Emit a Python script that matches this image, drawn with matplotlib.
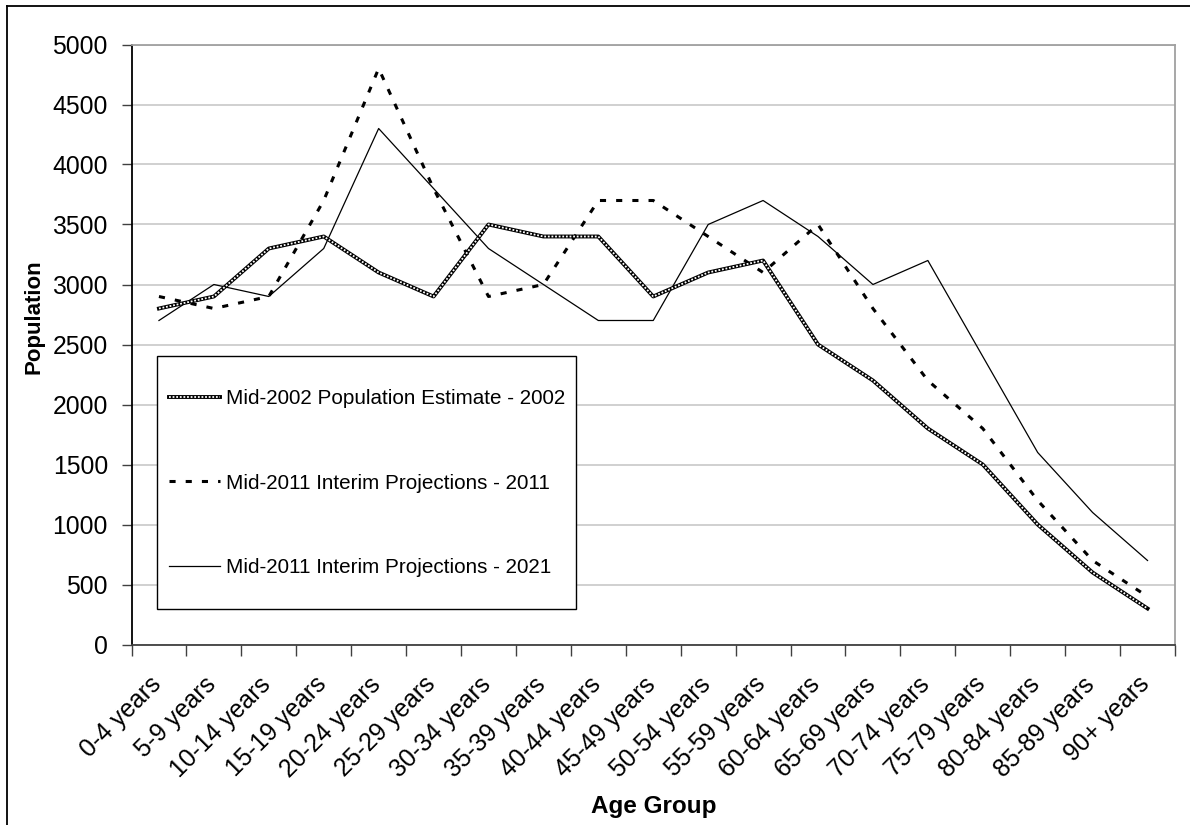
import numpy as np
import matplotlib
matplotlib.use("Agg")
import matplotlib.pyplot as plt
import matplotlib.transforms as mtransforms
from matplotlib.patches import Rectangle
from matplotlib.lines import Line2D
from matplotlib.legend_handler import HandlerTuple

plt.rcParams["font.family"] = ["Liberation Sans", "DejaVu Sans"]

age_groups = ["0-4 years", "5-9 years", "10-14 years", "15-19 years",
              "20-24 years", "25-29 years", "30-34 years", "35-39 years",
              "40-44 years", "45-49 years", "50-54 years", "55-59 years",
              "60-64 years", "65-69 years", "70-74 years", "75-79 years",
              "80-84 years", "85-89 years", "90+ years"]

est_2002 = [2800, 2900, 3300, 3400, 3100, 2900, 3500, 3400, 3400, 2900,
            3100, 3200, 2500, 2200, 1800, 1500, 1000, 600, 300]
proj_2011 = [2900, 2800, 2900, 3700, 4800, 3800, 2900, 3000, 3700, 3700,
             3400, 3100, 3500, 2800, 2200, 1800, 1200, 700, 400]
proj_2021 = [2700, 3000, 2900, 3300, 4300, 3800, 3300, 3000, 2700, 2700,
             3500, 3700, 3400, 3000, 3200, 2400, 1600, 1100, 700]

labels = ["Mid-2002 Population Estimate - 2002",
          "Mid-2011 Interim Projections - 2011",
          "Mid-2011 Interim Projections - 2021"]

fig = plt.figure(figsize=(11.9, 8.25), dpi=100)
ax = fig.add_axes([131.5 / 1190, 1 - 644.5 / 825,
                   (1175 - 131.5) / 1190, 600 / 825])

x = np.arange(len(age_groups))

# hatched look: black line with white dots running over it
l1a, = ax.plot(x, est_2002, color="black", lw=2.8, zorder=3)
l1b, = ax.plot(x, est_2002, color="white", lw=1.3, ls=(0, (1, 1)), zorder=4)
l2, = ax.plot(x, proj_2011, color="black", lw=2.2, ls=(0, (2.0, 3.3)),
              dash_capstyle="butt", zorder=3)
l3, = ax.plot(x, proj_2021, color="black", lw=0.9, zorder=3)

ax.set_xlim(-0.5, len(age_groups) - 0.5)
ax.set_ylim(0, 5000)
ax.set_yticks(np.arange(0, 5001, 500))
ax.grid(axis="y", color="#c8c8c8", lw=1.2)
ax.set_axisbelow(True)

# ticks sit on category boundaries, labels on category centres
ax.set_xticks(np.arange(-0.5, len(age_groups)), [""] * (len(age_groups) + 1))
ax.set_xticks(x, age_groups, minor=True, rotation=45, ha="right",
              rotation_mode="anchor", fontsize=17.8)
ax.tick_params(axis="x", which="minor", length=0, pad=20)
ax.tick_params(axis="x", which="major", length=8, width=1, color="#404040")
ax.tick_params(axis="y", length=7, width=1, labelsize=17.8, pad=10, color="#404040")

shift = mtransforms.ScaledTranslation(-10 / 100, 0, fig.dpi_scale_trans)
for lab in ax.get_xticklabels(minor=True):
    lab.set_transform(lab.get_transform() + shift)

for side in ["top", "right"]:
    ax.spines[side].set_color("#a0a0a0")
    ax.spines[side].set_linewidth(1.3)
ax.spines["left"].set_color("black")
ax.spines["bottom"].set_color("#404040")
ax.spines["left"].set_linewidth(1.3)
ax.spines["bottom"].set_linewidth(1.3)

# legend box with extra vertical room, like the original
box = Rectangle((0.0244, 0.0592), 0.4015, 0.4217, transform=ax.transAxes,
                facecolor="white", edgecolor="black", lw=1.0, zorder=5)
ax.add_patch(box)
leg = ax.legend([(l1a, l1b), l2, l3], labels,
                handler_map={tuple: HandlerTuple(ndivide=1)},
                loc="center left", bbox_to_anchor=(0.0359, 0.269),
                frameon=False, fontsize=14.9, handlelength=2.45,
                handletextpad=0.3, labelspacing=3.15, borderpad=0,
                borderaxespad=0)
leg.set_zorder(6)

fig.text(34 / 1190, 1 - 317 / 825, "Population", rotation=90, ha="center",
         va="center", fontsize=16, fontweight="bold")
fig.text(653.5 / 1190, 1 - 807 / 825, "Age Group", ha="center", va="center",
         fontsize=17.5, fontweight="bold")

# outer chart frame (top and left edges visible)
fig.add_artist(Line2D([7 / 1190, 7 / 1190], [0, 1 - 6 / 825],
                      transform=fig.transFigure, color="black", lw=1.3))
fig.add_artist(Line2D([7 / 1190, 1], [1 - 6 / 825, 1 - 6 / 825],
                      transform=fig.transFigure, color="black", lw=1.3))

fig.savefig("out.png", dpi=100)
